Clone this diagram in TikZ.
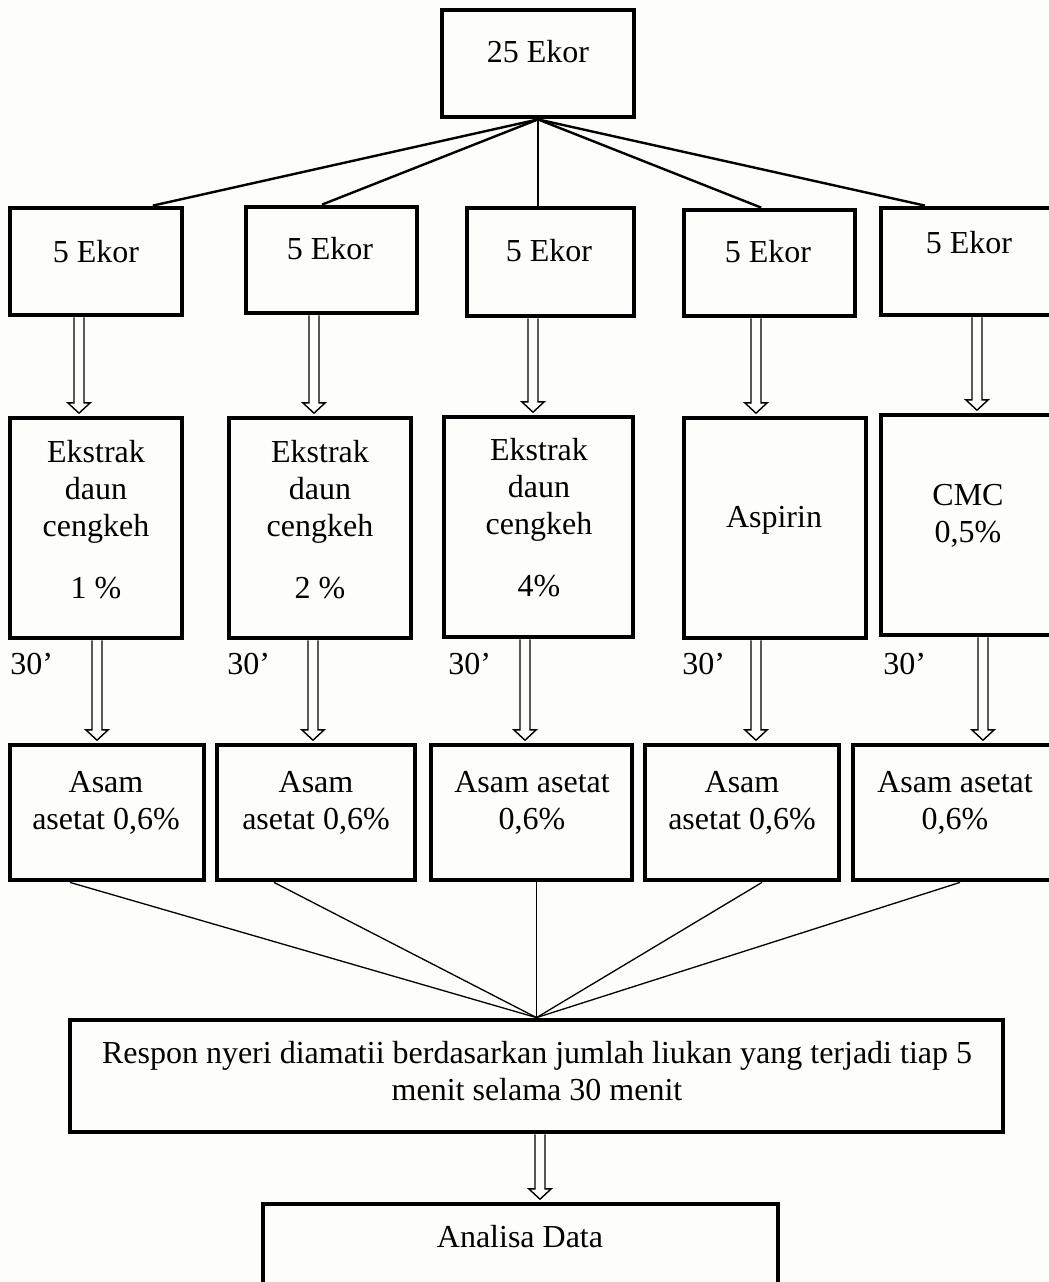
\documentclass[tikz,border=0pt]{standalone}
\usepackage{fontspec}
\setmainfont{Liberation Serif}
\usetikzlibrary{calc}
\definecolor{bg}{RGB}{253,253,249}
\tikzset{
  box/.style={draw, line width=2.4pt, inner sep=0pt},
  txt/.style={inner sep=0pt, align=center, font={\fontsize{16}{18.5}\selectfont}},
  fantop/.style={line width=1.2pt},
  fanbot/.style={line width=0.65pt},
  harrowline/.style={line width=0.7pt, fill=bg, line join=miter},
}
% box: name, x1, y1, x2, y2 (pixel coordinates, y downwards)
\newcommand\bx[5]{\node[box, minimum width={(#4-#2)*0.5pt}, minimum height={(#5-#3)*0.5pt}] (#1) at ({(#2+#4)/2},{(#3+#5)/2}) {};}
% hollow arrow: x, from node, to node
\newcommand\harrow[3]{%
  \draw[harrowline] let \p1=(#2.south), \p2=(#3.north), \p3=(#1,0) in
    (\x3-2.5pt,\y1) -- (\x3-2.5pt,\y2+6.4pt) -- (\x3-5.6pt,\y2+6.4pt) -- (\x3,\y2+1.2pt)
    -- (\x3+5.6pt,\y2+6.4pt) -- (\x3+2.5pt,\y2+6.4pt) -- (\x3+2.5pt,\y1);
}
\begin{document}
\begin{tikzpicture}[x=0.5pt,y=-0.5pt]
\useasboundingbox (0,0) rectangle (1049,1282);
\clip (0,0) rectangle (1049,1282);
\fill[bg] (0,0) rectangle (1049,1282);

% boxes
\bx{T}{442}{10}{634}{117}
\bx{A1}{10}{208}{182}{315}
\bx{A2}{246}{207}{417}{313}
\bx{A3}{467}{208}{634}{316}
\bx{A4}{684}{210}{855}{316}
\bx{A5}{881}{208}{1058}{315}
\bx{B1}{10}{418}{182}{638}
\bx{B2}{229}{418}{411}{638}
\bx{B3}{444}{417}{633}{637}
\bx{B4}{684}{418}{866}{638}
\bx{B5}{881}{415}{1056}{635}
\bx{C1}{10}{745}{204}{880}
\bx{C2}{217}{745}{415}{880}
\bx{C3}{431}{745}{632}{880}
\bx{C4}{645}{745}{839}{880}
\bx{C5}{853}{745}{1057}{880}
\bx{R}{70}{1020}{1003}{1132}
\bx{D}{263}{1204}{778}{1300}

% texts
\node[txt, anchor=base] (tT) at (538,62) {25 Ekor};
\node[txt, anchor=base] (tA1) at (96,262) {5 Ekor};
\node[txt, anchor=base] (tA2) at (330,259) {5 Ekor};
\node[txt, anchor=base] (tA3) at (549,261) {5 Ekor};
\node[txt, anchor=base] (tA4) at (768,262) {5 Ekor};
\node[txt, anchor=base] (tA5) at (969,253) {5 Ekor};

\node[txt, anchor=north] (tB1) at (96,440) {Ekstrak\\daun\\cengkeh\\[12.5pt]1 \%};
\node[txt, anchor=north] (tB2) at (320,440) {Ekstrak\\daun\\cengkeh\\[12.5pt]2 \%};
\node[txt, anchor=north] (tB3) at (539,438) {Ekstrak\\daun\\cengkeh\\[12.5pt]4\%};
\node[txt, anchor=base] (tB4) at (774,527) {Aspirin};
\node[txt, anchor=north] (tB5) at (968,484) {CMC\\0,5\%};

\node[txt, anchor=base west] (m1) at (10,674) {30’};
\node[txt, anchor=base west] (m2) at (227,674) {30’};
\node[txt, anchor=base west] (m3) at (448,674) {30’};
\node[txt, anchor=base west] (m4) at (682,674) {30’};
\node[txt, anchor=base west] (m5) at (883,674) {30’};

\node[txt, anchor=north] (tC1) at (106,771) {Asam\\asetat 0,6\%};
\node[txt, anchor=north] (tC2) at (316,771) {Asam\\asetat 0,6\%};
\node[txt, anchor=north] (tC3) at (532,771) {Asam asetat\\0,6\%};
\node[txt, anchor=north] (tC4) at (742,771) {Asam\\asetat 0,6\%};
\node[txt, anchor=north] (tC5) at (955,771) {Asam asetat\\0,6\%};

\node[txt, anchor=north] (tR) at (537,1041) {Respon nyeri diamatii berdasarkan jumlah liukan yang terjadi tiap 5\\menit selama 30 menit};
\node[txt, anchor=base] (tD) at (520,1247) {Analisa Data};

% top fan
\draw[fantop] (T.south) -- ([xshift=28.4pt]A1.north);
\draw[fantop] (T.south) -- ([xshift=-4.75pt]A2.north);
\draw[fantop, line width=0.9pt] (T.south) -- (T.south |- A3.north);
\draw[fantop] (T.south) -- ([xshift=-4.15pt]A4.north);
\draw[fantop] (T.south) -- ([xshift=-22.25pt]A5.north);

% arrows row A -> B
\harrow{79}{A1}{B1}
\harrow{314}{A2}{B2}
\harrow{533}{A3}{B3}
\harrow{756}{A4}{B4}
\harrow{977}{A5}{B5}

% arrows row B -> C
\harrow{97}{B1}{C1}
\harrow{313}{B2}{C2}
\harrow{525}{B3}{C3}
\harrow{756}{B4}{C4}
\harrow{983}{B5}{C5}

% bottom fan
\draw[fanbot] ([xshift=-18.5pt]C1.south) -- (R.north);
\draw[fanbot] ([xshift=-21pt]C2.south) -- (R.north);
\draw[fanbot] (C3.south -| R.north) -- (R.north);
\draw[fanbot] ([xshift=10pt]C4.south) -- (R.north);
\draw[fanbot] ([xshift=2.5pt]C5.south) -- (R.north);

% arrow R -> D
\harrow{540}{R}{D}
\end{tikzpicture}
\end{document}
